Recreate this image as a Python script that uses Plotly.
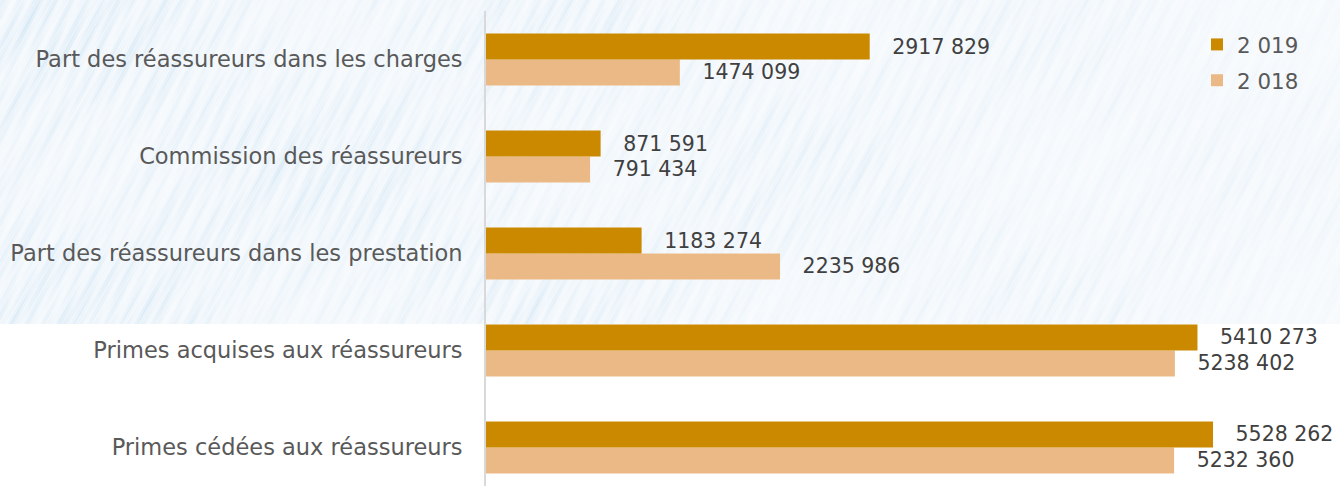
import base64
import struct
import zlib

import numpy as np
import plotly.graph_objects as go

categories = [
    "Primes cédées aux réassureurs",
    "Primes acquises aux réassureurs",
    "Part des réassureurs dans les prestation",
    "Commission des réassureurs",
    "Part des réassureurs dans les charges",
]
values_2019 = [5528262, 5410273, 1183274, 871591, 2917829]
values_2018 = [5232360, 5238402, 2235986, 791434, 1474099]
series_names = ["2 019", "2 018"]


def fmt(v):
    return "\u00a0\u00a0\u00a0" + f"{v // 1000} {v % 1000:03d}"


FONT = "DejaVu Sans"
C2019 = "#CB8900"
C2018 = "#EBB986"

W, H = 1340, 486
L, T = 486, 11
plot_w = W - L
plot_h = H - T
BG_H = 324


def texture_png(w, h):
    yy, xx = np.mgrid[0:h, 0:w].astype(float)
    u = xx * 0.866 + yy * 0.5
    v = xx * 0.5 - yy * 0.866
    s = (0.5
         + 0.14 * np.sin(u * 0.93 + 0.8 * np.sin(v * 0.011))
         + 0.11 * np.sin(u * 2.17 + 1.7 + 0.9 * np.sin(v * 0.023))
         + 0.10 * np.sin(u * 0.41 + 0.6 * np.sin(v * 0.05))
         + 0.08 * np.sin(u * 3.71 + 0.4)
         + 0.07 * np.sin(u * 0.173 + 2.1))
    d = 0.6 + 0.25 * np.sin(v * 0.067 + u * 0.41) + 0.15 * np.sin(v * 0.031 - u * 0.13)
    blob = 0.75 + 0.25 * np.sin(xx * 0.013 + 0.5) * np.sin(yy * 0.021 + 1.1)
    t = np.clip(s * d, 0, 1) * blob * (0.72 - 0.42 * xx / w)
    t = np.clip(t, 0, 1)[..., None]
    white = np.array([250, 252, 254], float)
    blue = np.array([190, 219, 240], float)
    img = (white * (1 - t) + blue * t).astype(np.uint8)
    raw = b"".join(b"\x00" + img[r].tobytes() for r in range(h))

    def chunk(tag, data):
        c = struct.pack(">I", len(data)) + tag + data
        return c + struct.pack(">I", zlib.crc32(tag + data) & 0xFFFFFFFF)

    png = (b"\x89PNG\r\n\x1a\n"
           + chunk(b"IHDR", struct.pack(">IIBBBBB", w, h, 8, 2, 0, 0, 0))
           + chunk(b"IDAT", zlib.compress(raw, 9))
           + chunk(b"IEND", b""))
    return "data:image/png;base64," + base64.b64encode(png).decode()


fig = go.Figure()
fig.add_trace(go.Bar(
    y=categories, x=values_2018, name=series_names[1], orientation="h",
    legendgroup="b", legendrank=2,
    marker=dict(color=C2018, line=dict(width=0)),
    text=[fmt(v) for v in values_2018], textposition="outside",
    textfont=dict(family=FONT, size=20.5, color="#404040"),
    constraintext="none", cliponaxis=False, hoverinfo="skip",
))
fig.add_trace(go.Bar(
    y=categories, x=values_2019, name=series_names[0], orientation="h",
    legendgroup="a", legendrank=1,
    marker=dict(color=C2019, line=dict(width=0)),
    text=[fmt(v) for v in values_2019], textposition="outside",
    textfont=dict(family=FONT, size=20.5, color="#404040"),
    constraintext="none", cliponaxis=False, hoverinfo="skip",
))

px_per_unit = 727 / 5528262

fig.update_layout(
    width=W, height=H,
    margin=dict(l=L, r=0, t=T, b=0, pad=0),
    paper_bgcolor="white", plot_bgcolor="rgba(0,0,0,0)",
    barmode="group", bargap=0.464, bargroupgap=0,
    showlegend=True,
    legend=dict(
        x=(1197 - L) / plot_w, y=(H - 24) / plot_h, xanchor="left", yanchor="top",
        traceorder="grouped", tracegroupgap=5, bgcolor="rgba(0,0,0,0)",
        font=dict(family=FONT, size=21.4, color="#595959"),
    ),
    xaxis=dict(range=[0, plot_w / px_per_unit], visible=False, fixedrange=True),
    yaxis=dict(
        categoryorder="array", categoryarray=categories,
        range=[-0.397, 4.5],
        showline=True, linecolor="#D9D9D9", linewidth=2,
        showgrid=False, ticks="", ticklabelstandoff=17,
        tickfont=dict(family=FONT, size=22.5, color="#595959"),
        fixedrange=True,
    ),
    images=[dict(
        source=texture_png(W, BG_H), xref="paper", yref="paper",
        x=-L / plot_w, y=H / plot_h, sizex=W / plot_w, sizey=BG_H / plot_h,
        xanchor="left", yanchor="top", sizing="stretch", layer="below",
    )],
)

fig.write_html("out.html", config={"displayModeBar": False},
               post_script="document.body.style.margin='0px';")
